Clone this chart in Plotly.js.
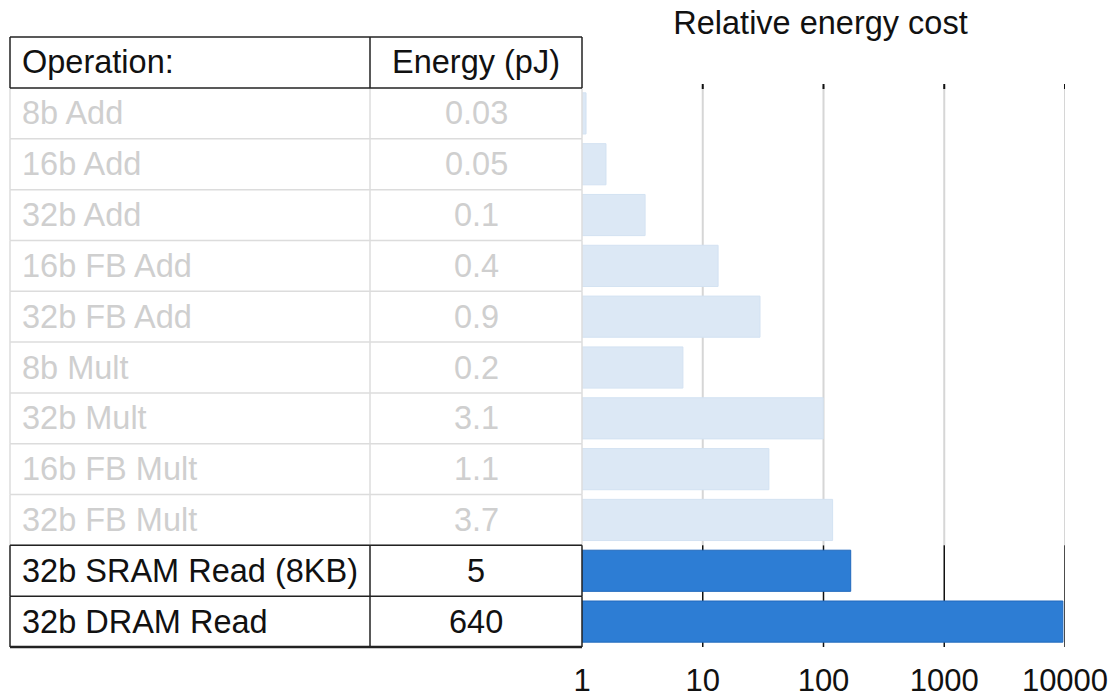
<!DOCTYPE html>
<html>
<head>
<meta charset="utf-8">
<script src="https://cdn.plot.ly/plotly-3.0.1.min.js"></script>
<style>html,body{margin:0;padding:0;background:#fff;}#chart{width:1110px;height:698px;}</style>
</head>
<body>
<div id="chart"></div>
<script>
// ---- data ----
const operations = ["8b Add","16b Add","32b Add","16b FB Add","32b FB Add","8b Mult","32b Mult","16b FB Mult","32b FB Mult","32b SRAM Read (8KB)","32b DRAM Read"];
const energyPJ = ["0.03","0.05","0.1","0.4","0.9","0.2","3.1","1.1","3.7","5","640"];
const relativeCost = [1.08, 1.58, 3.33, 13.4, 29.8, 6.85, 99.3, 35.3, 119, 168, 9600];
const highlighted = [false,false,false,false,false,false,false,false,false,true,true];
const tickValues = [1, 10, 100, 1000, 10000];
const tickLabels = ["1","10","100","1000","10000"];
const headers = ["Operation:", "Energy (pJ)"];

// ---- layout geometry ----
const W = 1110, H = 698;
const px = v => v / W;
const py = v => 1 - v / H;
const tableLeft = 10, tableMid = 370, tableRight = 582, plotRight = 1065;
const headerTop = 37, rowsTop = 88, rowsBottom = 647;
const n = operations.length;
const rowH = (rowsBottom - rowsTop) / n;
const firstHi = highlighted.indexOf(true);
const hiTop = rowsTop + firstHi * rowH;

const FONT = '"Liberation Sans", Arial, Helvetica, sans-serif';
const FS = 32.5;
const FADED_TEXT = '#cfcfcf', FADED_LINE = '#dcdcdc';

const shapes = [];
const annotations = [];
function line(x0, y0, x1, y1, color, width, layer) {
  shapes.push({type:'line', xref:'paper', yref:'paper', x0:px(x0), y0:py(y0), x1:px(x1), y1:py(y1),
    line:{color:color, width:width}, layer: layer || 'above'});
}

// gridlines (data x, paper y)
tickValues.slice(1).forEach(v => {
  shapes.push({type:'line', xref:'x', yref:'paper', x0:v, x1:v, y0:py(hiTop), y1:py(rowsTop - 2),
    line:{color:'#d6d6d6', width:2}, layer:'below'});
  shapes.push({type:'line', xref:'x', yref:'paper', x0:v, x1:v, y0:py(rowsBottom), y1:py(hiTop),
    line:{color:'#111', width:1.5}, layer:'below'});
  shapes.push({type:'line', xref:'x', yref:'paper', x0:v, x1:v, y0:py(rowsTop + 1), y1:py(rowsTop - 4),
    line:{color:'#111', width:2}, layer:'below'});
});

// faded rows borders
for (let i = 0; i < firstHi; i++) {
  const top = rowsTop + i * rowH, bot = top + rowH;
  line(tableLeft, bot, tableRight, bot, FADED_LINE, 1.5);
  line(tableLeft, top, tableLeft, bot, FADED_LINE, 1.5);
  line(tableMid, top, tableMid, bot, FADED_LINE, 1.5);
  line(tableRight, top, tableRight, bot, FADED_LINE, 1.5);
}
// header box
line(tableLeft, headerTop, tableRight, headerTop, '#222', 1.5);
line(tableLeft, rowsTop, tableRight, rowsTop, '#222', 1.5);
line(tableLeft, headerTop, tableLeft, rowsTop, '#222', 1.5);
line(tableMid, headerTop, tableMid, rowsTop, '#222', 1.5);
line(tableRight, headerTop, tableRight, rowsTop, '#222', 1.5);
// highlighted rows box
for (let i = firstHi; i < n; i++) {
  const top = rowsTop + i * rowH, bot = top + rowH;
  line(tableLeft, top, tableRight, top, '#222', 1.5);
  line(tableLeft, top, tableLeft, bot, '#222', 1.5);
  line(tableMid, top, tableMid, bot, '#222', 1.5);
  line(tableRight, top, tableRight, bot, '#222', 1.5);
}
line(tableLeft, rowsBottom, tableRight, rowsBottom, '#222', 2.5);

// header text
annotations.push({xref:'paper', yref:'paper', x:px(tableLeft + 10), y:py((headerTop + rowsTop) / 2), xanchor:'left', yanchor:'middle',
  text:headers[0], showarrow:false, font:{family:FONT, size:FS, color:'#111'}});
annotations.push({xref:'paper', yref:'paper', x:px((tableMid + tableRight) / 2), y:py((headerTop + rowsTop) / 2), xanchor:'center', yanchor:'middle',
  text:headers[1], showarrow:false, font:{family:FONT, size:FS, color:'#111'}});
// row text
operations.forEach((op, i) => {
  const yc = rowsTop + (i + 0.5) * rowH;
  const col = highlighted[i] ? '#111' : FADED_TEXT;
  annotations.push({xref:'paper', yref:'paper', x:px(tableLeft + 10), y:py(yc), xanchor:'left', yanchor:'middle',
    text:op, showarrow:false, font:{family:FONT, size:FS, color:col}});
  annotations.push({xref:'paper', yref:'paper', x:px((tableMid + tableRight) / 2), y:py(yc), xanchor:'center', yanchor:'middle',
    text:energyPJ[i], showarrow:false, font:{family:FONT, size:FS, color:col}});
});

const trace = {
  type:'bar', orientation:'h',
  y: operations, x: relativeCost,
  marker:{color: highlighted.map(h => h ? '#2d7dd4' : '#dce8f5'),
          line:{color: highlighted.map(h => h ? '#2169bd' : '#d3e2f2'), width:1}},
  hoverinfo:'x+y'
};

const layout = {
  width: W, height: H,
  margin:{l:0, r:0, t:0, b:0},
  paper_bgcolor:'#fff', plot_bgcolor:'rgba(0,0,0,0)',
  showlegend:false,
  bargap:0.19,
  font:{family:FONT, color:'#111'},
  title:{text:'Relative energy cost', font:{family:FONT, size:FS, color:'#111'},
         x:(673 + 968) / 2 / W, xanchor:'center', y:py(23), yanchor:'middle', xref:'paper', yref:'paper'},
  xaxis:{type:'log', range:[0, 4], domain:[px(tableRight), px(plotRight)],
         tickvals:tickValues, ticktext:tickLabels, showgrid:false, zeroline:false, showline:false,
         ticks:'', tickfont:{family:FONT, size:31, color:'#111'}, ticklabelstandoff:12, fixedrange:true},
  yaxis:{type:'category', autorange:'reversed', domain:[py(rowsBottom), py(rowsTop)],
         showticklabels:false, showgrid:false, zeroline:false, showline:false, ticks:'', fixedrange:true},
  shapes: shapes,
  annotations: annotations
};

Plotly.newPlot('chart', [trace], layout, {displayModeBar:false, staticPlot:true});
</script>
</body>
</html>
